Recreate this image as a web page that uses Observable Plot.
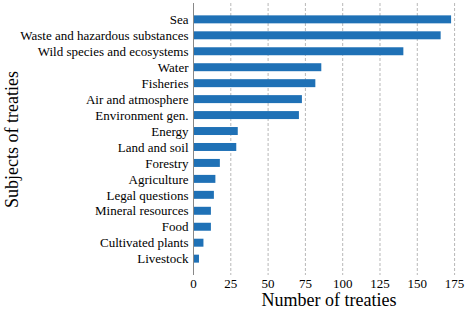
<!DOCTYPE html>
<html>
<head>
<meta charset="utf-8">
<script src="https://cdn.jsdelivr.net/npm/d3@7"></script>
<script src="https://cdn.jsdelivr.net/npm/@observablehq/plot@0.6"></script>
<style>
  html, body { margin: 0; padding: 0; background: #fff; }
  #chart svg, #chart svg text { font-family: "Liberation Serif", "DejaVu Serif", serif !important; }
</style>
</head>
<body>
<div id="chart"></div>
<script>
const subjects = ["Sea", "Waste and hazardous substances", "Wild species and ecosystems", "Water", "Fisheries", "Air and atmosphere", "Environment gen.", "Energy", "Land and soil", "Forestry", "Agriculture", "Legal questions", "Mineral resources", "Food", "Cultivated plants", "Livestock"];
const treaties = [173, 166, 141, 86, 82, 73, 71, 30, 29, 18, 15, 14, 12, 12, 7, 4];
const xTicks = [0, 25, 50, 75, 100, 125, 150, 175];
const xTitle = "Number of treaties";
const yTitle = "Subjects of treaties";

const data = subjects.map((s, i) => ({subject: s, count: treaties[i]}));

const chart = Plot.plot({
  width: 468,
  height: 314,
  marginLeft: 193,
  marginRight: 4,
  marginTop: 3,
  marginBottom: 39,
  style: {fontSize: "13px", color: "#000", background: "#fff"},
  x: {domain: [0, 181.65], ticks: xTicks},
  y: {domain: subjects, paddingInner: 0.5, paddingOuter: 0.775, round: false},
  marks: [
    Plot.gridX(xTicks.slice(1), {stroke: "#b8b8b8", strokeOpacity: 1, strokeDasharray: "3,2"}),
    Plot.barX(data, {x: "count", y: "subject", fill: "#1f71b6"}),
    Plot.ruleX([0], {stroke: "#888"}),
    Plot.axisX({ticks: xTicks, tickSize: 0, tickPadding: 3, label: null, fontSize: 13}),
    Plot.axisY({tickSize: 0, tickPadding: 5, label: null, fontSize: 13}),
    Plot.text([xTitle], {frameAnchor: "bottom", dy: 25, lineAnchor: "middle", fontSize: 18}),
    Plot.text([yTitle], {frameAnchor: "left", dx: -181, rotate: -90, textAnchor: "middle", lineAnchor: "middle", fontSize: 18})
  ]
});
document.getElementById("chart").appendChild(chart);
</script>
</body>
</html>
